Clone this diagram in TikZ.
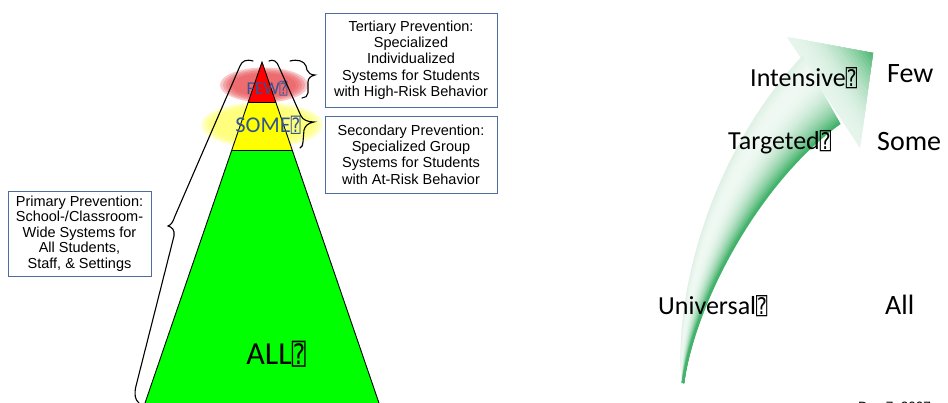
\documentclass[tikz,border=0pt]{standalone}
\usepackage{fontspec}
\setmainfont{Carlito}
\newfontfamily\arialf{Liberation Sans}
\newfontfamily\qfontf{DejaVu Sans Mono}
\usetikzlibrary{calc}
\newcommand\qbx{\scalebox{0.72}[0.88]{\qfontf ⍰}}
\definecolor{agreen}{RGB}{46,170,90}
\definecolor{boxblue}{RGB}{79,108,158}
\definecolor{txtblue}{RGB}{50,84,150}
\definecolor{fewpink}{RGB}{235,85,90}
\definecolor{someyel}{RGB}{255,255,100}
\definecolor{tgreen}{RGB}{0,255,0}
\definecolor{tred}{RGB}{255,0,0}
\definecolor{tyel}{RGB}{255,255,0}
\begin{document}
\begin{tikzpicture}[x=1pt,y=-1pt,
  pbox/.style={draw=boxblue, line width=0.9pt, align=center, inner sep=0pt, font=\arialf\fontsize{14.5}{16.3}\selectfont},
  bracepath/.style={draw=black, line width=1.1pt, line cap=round},
  lab/.style={font=\fontsize{26}{30}\selectfont, inner sep=0pt, anchor=base west},
  biglab/.style={font=\fontsize{28}{32}\selectfont, inner sep=0pt, anchor=base west},
  ]
\useasboundingbox (0,0) rectangle (948,403);
\fill[white] (0,0) rectangle (948,403);

% soft ellipses
\foreach \k in {0,...,4} {
  \fill[fewpink, fill opacity=0.32] (264,85) ellipse [x radius={(44-3*\k)*1pt}, y radius={(17.5-1.5*\k)*1pt}];
  \fill[someyel, fill opacity=0.3] (262,125) ellipse [x radius={(61-3*\k)*1pt}, y radius={(23-1.5*\k)*1pt}];
}

% triangle
\fill[tgreen] (231.6,150.7) -- (292.4,150.7) -- (384.8,420) -- (139.2,420) -- cycle;
\fill[tyel] (248.3,102) -- (275.7,102) -- (292.4,150.7) -- (231.6,150.7) -- cycle;
\fill[tred] (262,62) -- (275.7,102) -- (248.3,102) -- cycle;
\draw[line width=0.9pt] (248.3,102) -- (275.7,102) (231.6,150.7) -- (292.4,150.7);
\draw[line width=0.9pt,line join=miter] (139.2,420) -- (262,62) -- (384.8,420);

\node[font=\fontsize{18}{20}\selectfont, text=txtblue, anchor=base, inner sep=0pt] (few) at (267,95) {FEW\qbx};
\node[font=\fontsize{22.5}{25}\selectfont, text=txtblue, anchor=base, inner sep=0pt] (some) at (268,133) {SOME\qbx};
\node[font=\fontsize{32}{36}\selectfont, anchor=base, inner sep=0pt] (all) at (276,365) {ALL\qbx};

% braces
\draw[bracepath] (253,61) .. controls (246,59) and (242,61) .. (240,66) -- (175,216)
  .. controls (173,222) and (171,225) .. (168,226)
  .. controls (172,227) and (175,230) .. (174,236) -- (136,386)
  .. controls (134,394) and (135,400) .. (139,403);
\draw[bracepath] (269,61) .. controls (273,59) and (277,61) .. (279,67) -- (301,116)
  .. controls (303,120) and (308,122) .. (314,122)
  .. controls (308,123) and (305,126) .. (304,130) -- (303,142)
  .. controls (303,145) and (302,147) .. (300,148);
\draw[bracepath] (290,61) .. controls (298,59) and (304,61) .. (306,66) -- (307,70)
  .. controls (308,73) and (311,75) .. (315,75)
  .. controls (311,76) and (308,78) .. (308,82) -- (308,93)
  .. controls (308,96) and (305,98) .. (302,98);

% boxes
\node[pbox, minimum width=172pt, minimum height=94pt] (tert) at (411,60)
  {Tertiary Prevention:\\Specialized\\Individualized\\Systems for Students\\with High-Risk Behavior};
\node[pbox, minimum width=172pt, minimum height=77pt] (sec) at (411,154.5)
  {Secondary Prevention:\\Specialized Group\\Systems for Students\\with At-Risk Behavior};
\node[pbox, minimum width=143pt, minimum height=85pt, font=\arialf\fontsize{14.5}{15.5}\selectfont] (prim) at (79.5,233.5)
  {Primary Prevention:\\School-/Classroom-\\Wide Systems for\\All Students,\\Staff, \& Settings};

% curved arrow
\coordinate (T0) at (683,383);
\coordinate (LA) at (674,290); \coordinate (LB) at (715,150); \coordinate (LE) at (803,57);
\coordinate (RA) at (695,300); \coordinate (RB) at (760,180); \coordinate (RE) at (840,123);
\coordinate (HA) at (787,37); \coordinate (HT) at (873,53); \coordinate (HB) at (860,148);
\foreach \i in {0,...,20} {
  \pgfmathsetmacro\f{1-\i/20}
  \pgfmathsetmacro\pc{12+78*\i/20*\i/20}
  \fill[agreen!\pc!white] (HT) -- ($(HT)!\f!(HA)$) -- ($(HT)!\f!(HB)$) -- cycle;
}
\foreach \i in {0,...,40} {
  \pgfmathsetmacro\s{\i/40}
  \pgfmathsetmacro\pc{4+86*\s*\s*\s+12*(1-\s)^6}
  \draw[line width=2.4pt, agreen!\pc!white] (T0) .. controls ($(LA)!\s!(RA)$) and ($(LB)!\s!(RB)$) .. ($(LE)!\s!(RE)$);
}

% right labels
\node[lab] (intensive) at (750,87) {Intensive\qbx};
\node[biglab] (fewr) at (887,83) {Few};
\node[lab] (targeted) at (728,150) {Targeted\qbx};
\node[biglab] (somer) at (877,151) {Some};
\node[lab] (universal) at (658,315) {Universal\qbx};
\node[biglab] (allr) at (885,315) {All};
\node[anchor=base west, inner sep=0pt, font=\arialf\fontsize{13.5}{15}\selectfont] (date) at (858,411.5) {Dec 7, 2007};
\end{tikzpicture}
\end{document}
